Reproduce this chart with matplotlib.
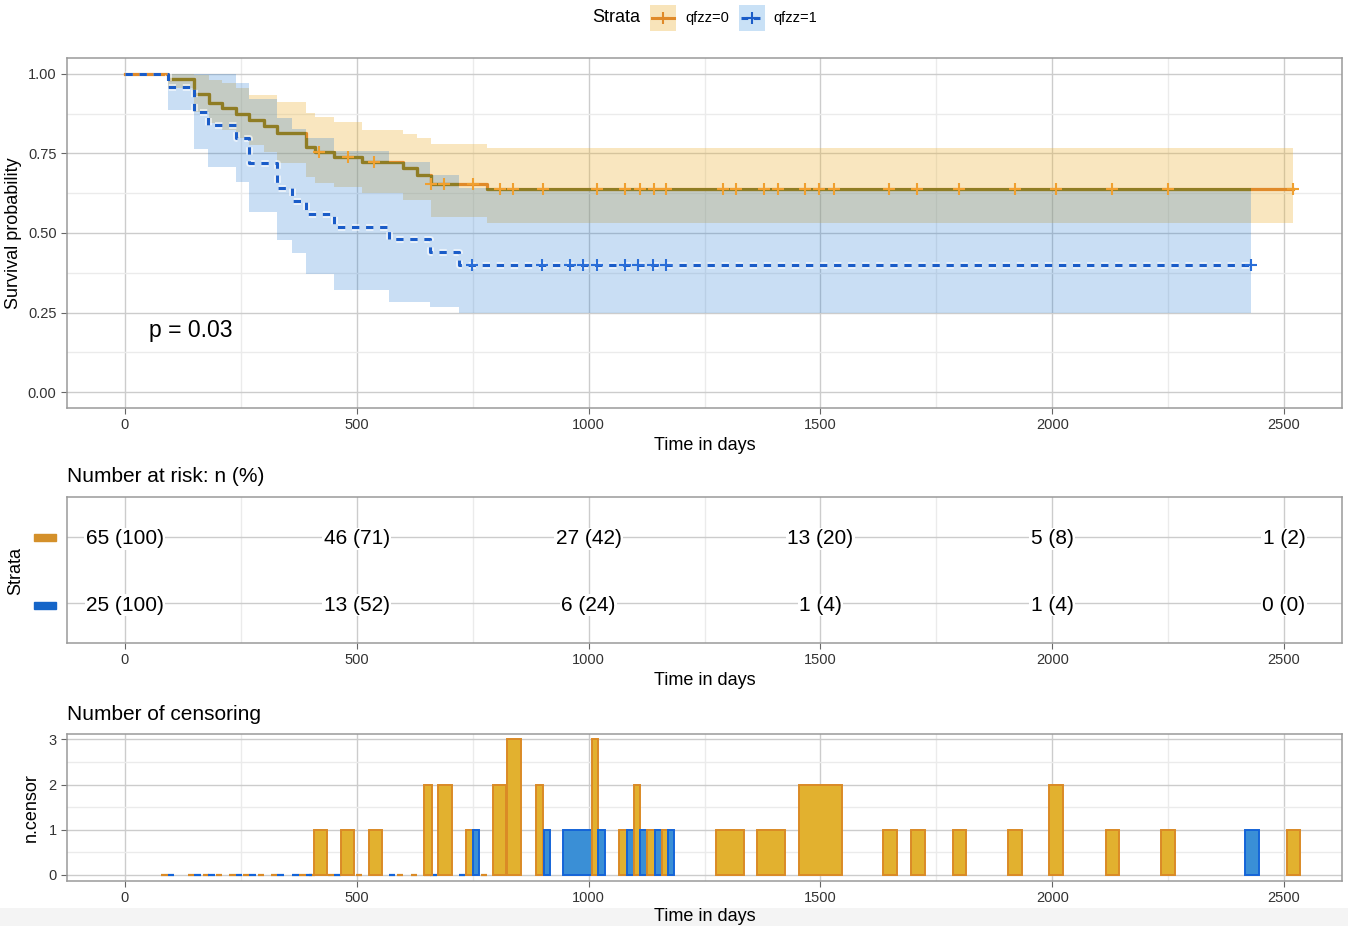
import numpy as np
import matplotlib
matplotlib.use('Agg')
import matplotlib.pyplot as plt
from matplotlib.patches import Rectangle
from matplotlib.lines import Line2D
import matplotlib.patheffects as pe

plt.rcParams['font.family'] = ['Liberation Sans', 'DejaVu Sans']

# ---- survival curves ----
o_time  = [0, 92, 149, 182, 210, 239, 268, 300, 329, 390, 410, 451, 512, 600, 630, 660, 781]
o_surv  = [1, .985, .938, .910, .894, .875, .854, .835, .815, .770, .755, .739, .723, .704, .683, .655, .637]
o_upper = [1, 1, .995, .98, .97, .955, .934, .934, .913, .878, .865, .849, .823, .812, .798, .781, .766]
o_lower = [1, .955, .88, .845, .825, .80, .775, .755, .72, .677, .656, .645, .625, .604, .604, .551, .530]
o_end = 2519
o_cens = [418, 480, 538, 660, 688, 751, 808, 838, 901, 1019, 1079, 1110, 1140, 1168, 1290, 1319,
          1378, 1408, 1467, 1498, 1529, 1649, 1709, 1799, 1919, 2008, 2128, 2249, 2519]

b_time  = [0, 92, 149, 180, 239, 268, 329, 361, 390, 451, 569, 659, 720]
b_surv  = [1, .96, .88, .84, .80, .72, .64, .60, .56, .52, .48, .44, .40]
b_upper = [1, 1, 1, 1, .973, .92, .86, .826, .797, .757, .723, .682, .64]
b_lower = [1, .888, .765, .708, .66, .567, .478, .436, .37, .321, .284, .268, .25]
b_end = 2428
b_cens = [748, 899, 960, 989, 1018, 1079, 1107, 1138, 1168, 2428]

# ---- number at risk ----
risk_time = [0, 500, 1000, 1500, 2000, 2500]
o_risk = [65, 46, 27, 13, 5, 1]
o_pct = [100, 71, 42, 20, 8, 2]
b_risk = [25, 13, 6, 1, 1, 0]
b_pct = [100, 52, 24, 4, 4, 0]

# ---- number of censoring bars: centre day, width (days), count, group ----
cens_day = [422, 481, 540, 654, 690, 744, 758, 808, 839, 894, 910, 976, 1014, 1028, 1074, 1090, 1104,
            1118, 1134, 1150, 1165, 1178, 1305, 1394, 1500, 1650, 1710, 1800, 1920, 2009, 2130, 2250,
            2430, 2520]
cens_w = [28, 28, 29, 18, 31, 16, 13, 29, 32, 17, 13, 61, 14, 15, 17, 14, 14,
          15, 17, 15, 14, 12, 60, 61, 91, 29, 30, 28, 31, 30, 30, 31,
          30, 29]
cens_n = [1, 1, 1, 2, 2, 1, 1, 2, 3, 2, 1, 1, 3, 1, 1, 1, 2,
          1, 1, 1, 1, 1, 1, 1, 2, 1, 1, 1, 1, 2, 1, 1,
          1, 1]
cens_grp = ['o', 'o', 'o', 'o', 'o', 'o', 'b', 'o', 'o', 'o', 'b', 'b', 'o', 'b', 'o', 'b', 'o',
            'b', 'o', 'b', 'o', 'b', 'o', 'o', 'o', 'o', 'o', 'o', 'o', 'o', 'o', 'o',
            'b', 'o']

ORANGE = '#E08A2A'
OLIVE = '#8F7D24'
BLUE = '#1A5CC8'
O_RIB = '#EDB43A'
B_RIB = '#1E78D2'
BAR_FILL = {'o': '#E2B12F', 'b': '#3A8FD6'}
BAR_EDGE = {'o': '#DA8A26', 'b': '#1464D8'}

W, H = 1348, 926
fig = plt.figure(figsize=(W / 100, H / 100), dpi=100)


def box(l, t, r, b):
    return [l / W, 1 - b / H, (r - l) / W, (b - t) / H]


def fx(x):
    return x / W


def fy(y):
    return 1 - y / H


def style(ax):
    for sp in ax.spines.values():
        sp.set_color('#9a9a9a')
        sp.set_linewidth(1.1)
    ax.tick_params(which='major', length=4, color='#666666', labelsize=10.5, labelcolor='#333333')
    ax.tick_params(which='minor', length=0)
    ax.grid(which='major', color='#cccccc', lw=1)
    ax.grid(which='minor', color='#ebebeb', lw=1)
    ax.set_axisbelow(True)
    ax.set_xlim(-125, 2625)
    ax.set_xticks(risk_time)
    ax.set_xticks([250, 750, 1250, 1750, 2250], minor=True)


def ext(t, v, end):
    return np.append(t, end), np.append(v, v[-1])


# ================= survival panel =================
ax1 = fig.add_axes(box(67, 58, 1342, 408))
style(ax1)
ax1.set_ylim(-0.05, 1.05)
ax1.set_yticks([0, .25, .5, .75, 1])
ax1.set_yticklabels(['0.00', '0.25', '0.50', '0.75', '1.00'])
ax1.set_yticks([.125, .375, .625, .875], minor=True)

t, lo = ext(o_time, o_lower, o_end)
_, up = ext(o_time, o_upper, o_end)
ax1.fill_between(t, lo, up, step='post', color=O_RIB, alpha=0.32, lw=0, zorder=1)

t, s = ext(o_time, o_surv, o_end)
ax1.step(t, s, where='post', color=ORANGE, lw=2.3, zorder=1.5)

tb, lob = ext(b_time, b_lower, b_end)
_, upb = ext(b_time, b_upper, b_end)
bpoly = ax1.fill_between(tb, lob, upb, step='post', color=B_RIB, alpha=0.24, lw=0, zorder=2)

ol, = ax1.step(t, s, where='post', color=OLIVE, lw=2.3, zorder=2.5)
ol.set_clip_path(bpoly.get_paths()[0], ax1.transData)

tb, sb = ext(b_time, b_surv, b_end)
ax1.step(tb, sb, where='post', color=BLUE, lw=2.2, dashes=(2.4, 2.2), zorder=4,
         path_effects=[pe.withStroke(linewidth=5, foreground='white', alpha=0.6)])

o_cy = [o_surv[np.searchsorted(o_time, c, side='right') - 1] for c in o_cens]
b_cy = [b_surv[np.searchsorted(b_time, c, side='right') - 1] for c in b_cens]
ax1.plot(o_cens, o_cy, ls='none', marker='+', ms=8, mew=1.5, color='#F0A030', zorder=5)
ax1.plot(b_cens, b_cy, ls='none', marker='+', ms=8, mew=1.5, color='#2A6ED8', zorder=5)

ax1.text(52, 0.195, 'p = 0.03', fontsize=16.5, va='center')
ax1.set_xlabel('Time in days', fontsize=13, labelpad=3)
ax1.set_ylabel('Survival probability', fontsize=13, labelpad=4)

# ================= risk table =================
ax2 = fig.add_axes(box(67, 497, 1342, 643))
style(ax2)
ax2.set_ylim(0.4, 2.6)
ax2.set_yticks([1, 2])
ax2.set_yticklabels(['', ''])
ax2.tick_params(axis='y', length=0)
for i, tt in enumerate(risk_time):
    ax2.text(tt, 2, f'{o_risk[i]} ({o_pct[i]})', fontsize=15, ha='center', va='center_baseline',
             bbox=dict(facecolor='white', edgecolor='none', pad=1))
    ax2.text(tt, 1, f'{b_risk[i]} ({b_pct[i]})', fontsize=15, ha='center', va='center_baseline',
             bbox=dict(facecolor='white', edgecolor='none', pad=1))
ax2.set_xlabel('Time in days', fontsize=13, labelpad=3)
fig.text(fx(67), fy(477), 'Number at risk: n (%)', fontsize=15, va='center')
fig.text(fx(16), fy(571), 'Strata', fontsize=13, rotation=90, va='center', ha='center')
fig.patches.append(Rectangle((fx(34), fy(541)), fx(22), 7 / H, color='#D4902A', transform=fig.transFigure))
fig.patches.append(Rectangle((fx(34), fy(609)), fx(22), 7 / H, color='#1565C8', transform=fig.transFigure))

# ================= censoring =================
ax3 = fig.add_axes(box(67, 734, 1342, 881))
style(ax3)
ax3.set_ylim(-0.14, 3.12)
ax3.set_yticks([0, 1, 2, 3])
ax3.set_yticks([.5, 1.5, 2.5], minor=True)

# zero-height bars at event times
for tt in o_time[1:]:
    ax3.bar(tt - 7, 0, width=14, edgecolor=BAR_EDGE['o'], facecolor='none', lw=1.6, zorder=3)
for tt in b_time[1:]:
    ax3.bar(tt + 7, 0, width=14, edgecolor=BAR_EDGE['b'], facecolor='none', lw=1.6, zorder=3)

for d, w, n, g in zip(cens_day, cens_w, cens_n, cens_grp):
    ax3.bar(d, n, width=w, facecolor=BAR_FILL[g], edgecolor=BAR_EDGE[g], lw=1.4, zorder=3)

ax3.set_xlabel('Time in days', fontsize=13, labelpad=2)
ax3.set_ylabel('n.censor', fontsize=13, labelpad=6)
fig.text(fx(67), fy(714), 'Number of censoring', fontsize=15, va='center')

# ================= legend =================
fig.text(fx(592), fy(18), 'Strata', fontsize=13, va='center')
fig.patches.append(Rectangle((fx(650), fy(31)), fx(26), 26 / H, facecolor='#F8E4BA',
                             edgecolor='none', transform=fig.transFigure))
fig.patches.append(Rectangle((fx(739), fy(31)), fx(26), 26 / H, facecolor='#C9E1F6',
                             edgecolor='none', transform=fig.transFigure))
fig.lines.append(Line2D([fx(652), fx(674)], [fy(18), fy(18)], color=ORANGE, lw=2.2,
                        transform=fig.transFigure))
fig.lines.append(Line2D([fx(663)], [fy(18)], marker='+', ms=9, mew=1.5, color=ORANGE,
                        transform=fig.transFigure))
fig.lines.append(Line2D([fx(741), fx(763)], [fy(18), fy(18)], color=BLUE, lw=2.2,
                        dashes=(2.2, 1.8), transform=fig.transFigure))
fig.lines.append(Line2D([fx(752)], [fy(18)], marker='+', ms=9, mew=1.5, color=BLUE,
                        transform=fig.transFigure))
fig.text(fx(685), fy(18), 'qfzz=0', fontsize=10.5, va='center')
fig.text(fx(773), fy(18), 'qfzz=1', fontsize=10.5, va='center')

# faint strip at the very bottom
fig.patches.append(Rectangle((0, 0), 1, 18 / H, facecolor='#F4F4F4', edgecolor='none',
                             transform=fig.transFigure, zorder=-5))

fig.savefig('out.png', dpi=100)
